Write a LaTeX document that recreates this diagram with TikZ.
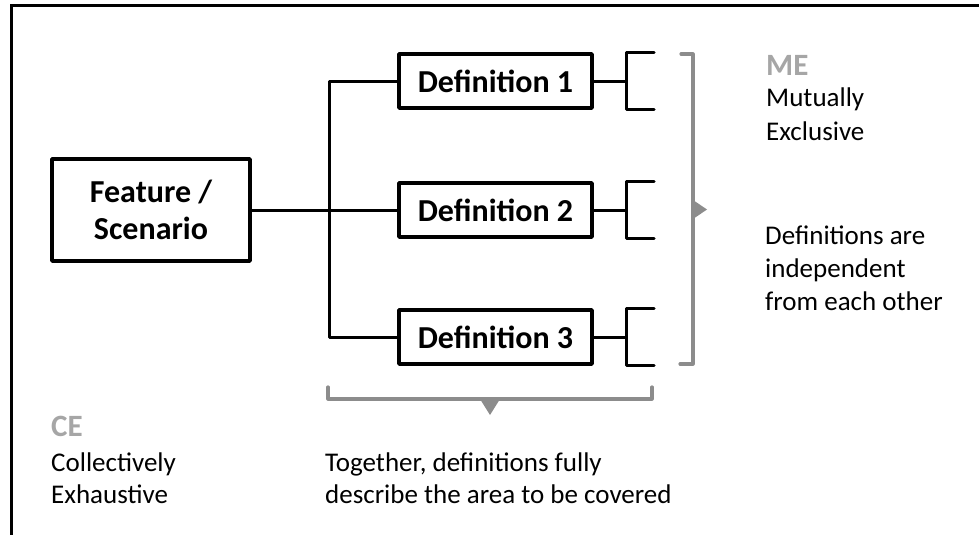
\documentclass[tikz,border=0pt]{standalone}
\usepackage{fontspec}
\setmainfont{Carlito}
\definecolor{bracketgray}{HTML}{8C8C8C}
\definecolor{labelgray}{HTML}{A6A6A6}
\begin{document}
\begin{tikzpicture}[x=1pt,y=-1pt,
  box/.style={draw=black,line width=3.4pt,line join=round,rectangle,inner sep=0pt,
    font=\fontsize{32}{37}\selectfont\bfseries,align=center},
  defbox/.style={box,minimum width=193pt,minimum height=54pt},
  link/.style={draw=black,line width=3pt,line cap=round,line join=round},
  brace/.style={draw=bracketgray,line width=3.2pt,line cap=round,line join=round},
  tip/.style={fill=bracketgray,draw=none},
  body/.style={inner sep=0pt,anchor=base west,align=left,font=\fontsize{27}{33}\selectfont},
  tag/.style={inner sep=0pt,anchor=base west,font=\fontsize{31}{33}\selectfont\bfseries,text=labelgray}]
\useasboundingbox (0,0) rectangle (979,535);
% outer frame (top and left edges)
\coordinate (frameTL) at (11,6);
\coordinate (frameTR) at (979,6);
\coordinate (frameBL) at (11,535);
\draw[line width=3pt] (frameTR) -- (frameTL) -- (frameBL);

% root and definition boxes
\node[box,minimum width=198pt,minimum height=102pt] (feat) at (151,210) {Feature /\\Scenario};
\node[defbox] (def1) at (495.5,81) {Definition 1};
\node[defbox] (def2) at (495.5,210) {Definition 2};
\node[defbox] (def3) at (495.5,337) {Definition 3};

% tree connectors
\coordinate (trunk) at (329,0);
\draw[link] (feat.east) -- (def2.west);
\draw[link] (def1.west) -- (def1.west -| trunk) -- (def3.west -| trunk) -- (def3.west);

% open brackets to the right of each definition
\coordinate (bx) at (626,0);
\coordinate (bxe) at (654,0);
\foreach \d in {def1,def2,def3}{
  \draw[link] (\d.east) -- (\d.east -| bx);
  \draw[link] (\d.north -| bxe) -- (\d.north -| bx) -- (\d.south -| bx) -- (\d.south -| bxe);
}

% ME bracket with arrow
\coordinate (meTop) at (681,54);
\coordinate (meTopR) at (693,54);
\coordinate (meBotR) at (693,364);
\coordinate (meBot) at (680,364);
\draw[brace] (meTop) -- (meTopR) -- (meBotR) -- (meBot);
\coordinate (meA) at (693,200);
\coordinate (meB) at (707,209.5);
\coordinate (meC) at (693,219);
\fill[tip] (meA) -- (meB) -- (meC) -- cycle;

% CE bracket with arrow
\coordinate (ceL) at (328,387);
\coordinate (ceLB) at (328,399);
\coordinate (ceRB) at (652,399);
\coordinate (ceR) at (652,387);
\draw[brace] (ceL) -- (ceLB) -- (ceRB) -- (ceR);
\coordinate (ceA) at (480,399);
\coordinate (ceB) at (500,399);
\coordinate (ceC) at (490,415);
\fill[tip] (ceA) -- (ceB) -- (ceC) -- cycle;

% labels (base anchor sits on the last line of each block)
\node[tag] (me) at (766,75) {ME};
\node[body,font=\fontsize{27}{34}\selectfont] (mex) at (766,140) {Mutually\\Exclusive};
\node[body] (medesc) at (765,310) {Definitions are\\independent\\from each other};
\node[tag] (ce) at (51,436) {CE};
\node[body,font=\fontsize{27}{32}\selectfont] (cex) at (51,503) {Collectively\\Exhaustive};
\node[body,font=\fontsize{27}{32}\selectfont] (cedesc) at (325,503) {Together, definitions fully\\describe the area to be covered};
\end{tikzpicture}
\end{document}
